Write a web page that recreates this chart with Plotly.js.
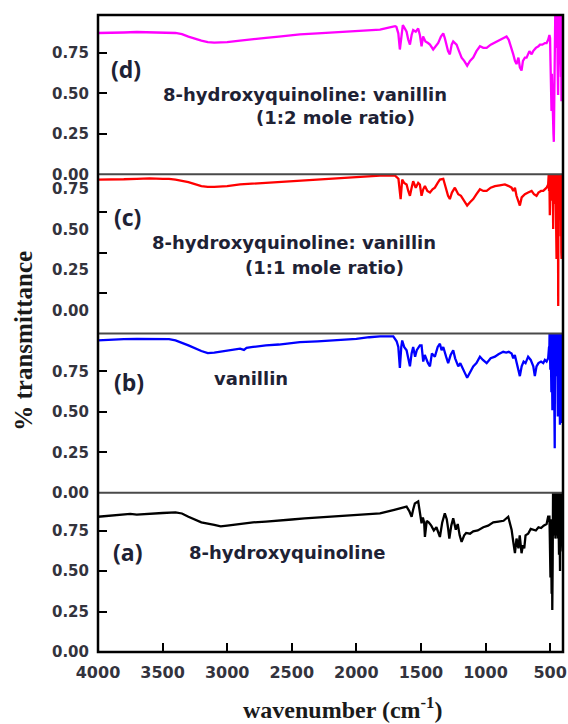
<!DOCTYPE html>
<html>
<head>
<meta charset="utf-8">
<script src="https://cdn.plot.ly/plotly-3.0.1.min.js"></script>
<style>html,body{margin:0;padding:0;background:#fff;}#chart{width:568px;height:724px;}</style>
</head>
<body>
<div id="chart"></div>
<script>
// ---------- data ----------
const xTickVals = [4000, 3500, 3000, 2500, 2000, 1500, 1000, 500];
const yTickVals = [0, 0.25, 0.5, 0.75];
const yTickText = ['0.00', '0.25', '0.50', '0.75'];

const panelLetters = ['(a)', '(b)', '(c)', '(d)'];
const nameA = '8-hydroxyquinoline';
const nameB = 'vanillin';
const nameMix = '8-hydroxyquinoline: vanillin';
const ratioC = '(1:1 mole ratio)';
const ratioD = '(1:2 mole ratio)';

// (a) 8-hydroxyquinoline
const wnA = [4000,3900,3800,3750,3700,3600,3500,3400,3350,3300,3200,3100,3050,3000,2900,2800,2700,2600,2500,2400,2200,2000,1900,1817,1714,1640,1611,1590,1572,1560,1547,1521,1505,1495,1485,1475,1469,1455,1440,1420,1400,1380,1353,1335,1315,1300,1289,1280,1265,1250,1230,1215,1200,1185,1165,1150,1120,1095,1060,1017,980,940,900,860,824,810,798,785,772,760,745,735,721,710,700,690,670,650,631,610,590,570,550,527,515,505,502,500,497,494,491,488,485,483,480,477,475,473,471,469,467,465,463,461,459,457,455,453,451,449,447,445,443,441,439,437,435,433,431,429,427,425,423,421,419,417,415,413,411,409,407,405,403,401,400];
const tA = [0.835,0.84,0.845,0.852,0.848,0.855,0.858,0.862,0.855,0.835,0.80,0.785,0.775,0.78,0.79,0.80,0.805,0.81,0.818,0.825,0.835,0.845,0.85,0.856,0.876,0.89,0.897,0.87,0.835,0.88,0.917,0.93,0.86,0.794,0.83,0.80,0.71,0.81,0.80,0.78,0.75,0.77,0.71,0.80,0.856,0.82,0.76,0.70,0.78,0.825,0.755,0.79,0.72,0.68,0.72,0.735,0.73,0.745,0.75,0.77,0.78,0.80,0.805,0.81,0.835,0.78,0.755,0.68,0.61,0.70,0.64,0.72,0.61,0.66,0.64,0.72,0.73,0.76,0.755,0.75,0.77,0.765,0.78,0.79,0.835,0.835,0.70,0.60,0.46,0.82,0.40,0.36,0.80,0.26,0.55,0.99,0.78,0.99,0.75,0.99,0.72,0.99,0.76,0.99,0.70,0.99,0.78,0.99,0.74,0.99,0.72,0.99,0.76,0.99,0.70,0.99,0.66,0.99,0.60,0.99,0.55,0.99,0.50,0.99,0.62,0.99,0.68,0.99,0.72,0.99,0.74,0.99,0.76,0.99,0.80];

// (b) vanillin
const wnB = [4000,3900,3800,3700,3600,3500,3450,3400,3300,3200,3150,3100,3050,3000,2950,2900,2870,2850,2800,2700,2600,2500,2437,2300,2200,2000,1900,1817,1714,1688,1675,1663,1652,1645,1630,1611,1598,1585,1572,1560,1545,1532,1508,1495,1482,1470,1445,1430,1415,1392,1370,1353,1340,1327,1305,1289,1270,1250,1235,1220,1211,1195,1175,1160,1142,1120,1095,1070,1043,1020,991,960,927,900,863,840,820,798,785,773,760,745,734,720,705,690,670,650,630,618,605,590,570,553,540,527,515,508,506,504,502,500,498,496,494,492,490,488,486,484,482,480,478,476,474,472,470,468,466,464,462,460,458,456,454,452,450,448,446,444,442,440,438,436,434,432,430,428,426,424,422,420,418,416,414,412,410,408,406,404,402,400];
const tB = [0.94,0.945,0.948,0.95,0.95,0.95,0.948,0.94,0.91,0.875,0.862,0.865,0.872,0.88,0.885,0.89,0.882,0.895,0.90,0.91,0.915,0.925,0.93,0.935,0.94,0.95,0.96,0.965,0.965,0.935,0.90,0.77,0.90,0.94,0.90,0.88,0.83,0.78,0.86,0.90,0.84,0.88,0.91,0.91,0.81,0.85,0.80,0.78,0.86,0.84,0.90,0.92,0.88,0.90,0.84,0.80,0.85,0.88,0.83,0.80,0.78,0.80,0.76,0.74,0.71,0.74,0.78,0.80,0.84,0.82,0.80,0.83,0.84,0.855,0.87,0.865,0.87,0.86,0.83,0.85,0.80,0.76,0.72,0.78,0.81,0.80,0.84,0.82,0.78,0.72,0.78,0.80,0.81,0.80,0.82,0.81,0.83,0.90,0.85,0.99,0.78,0.99,0.76,0.99,0.74,0.99,0.62,0.99,0.75,0.99,0.51,0.99,0.74,0.99,0.72,0.99,0.60,0.99,0.40,0.275,0.99,0.76,0.99,0.74,0.99,0.76,0.99,0.72,0.99,0.74,0.99,0.47,0.99,0.70,0.99,0.60,0.99,0.45,0.99,0.42,0.99,0.44,0.99,0.43,0.99,0.45,0.99,0.60,0.99,0.70,0.99,0.75];

// (c) 8-hydroxyquinoline : vanillin 1:1
const wnC = [4000,3900,3800,3700,3600,3500,3450,3400,3300,3200,3150,3100,3050,3000,2900,2800,2700,2600,2500,2400,2300,2200,2100,2000,1900,1817,1700,1674,1657,1645,1630,1611,1598,1585,1572,1560,1540,1521,1508,1495,1482,1469,1450,1430,1410,1392,1370,1353,1327,1315,1302,1290,1276,1260,1237,1224,1211,1190,1172,1155,1142,1120,1095,1070,1043,1017,991,960,927,890,850,820,798,785,772,760,745,734,720,695,670,643,625,605,590,570,553,540,527,515,512,510,508,506,504,502,500,498,496,494,492,490,488,486,484,482,480,478,476,474,472,470,468,466,464,462,460,458,456,454,452,450,448,446,444,442,440,438,437,435,433,431,429,427,425,423,421,419,417,415,413,411,409,407,405,403,401,400];
const tC = [0.95,0.95,0.952,0.955,0.958,0.955,0.955,0.95,0.935,0.91,0.905,0.905,0.907,0.91,0.92,0.925,0.93,0.935,0.94,0.945,0.95,0.955,0.96,0.965,0.97,0.975,0.975,0.955,0.83,0.95,0.93,0.92,0.88,0.85,0.90,0.94,0.90,0.93,0.92,0.85,0.89,0.91,0.88,0.87,0.89,0.90,0.93,0.95,0.955,0.92,0.88,0.85,0.83,0.87,0.90,0.88,0.86,0.85,0.83,0.81,0.79,0.81,0.83,0.86,0.89,0.88,0.88,0.90,0.91,0.915,0.92,0.91,0.90,0.88,0.90,0.85,0.81,0.79,0.84,0.86,0.87,0.88,0.86,0.85,0.87,0.88,0.88,0.89,0.90,0.92,0.94,0.99,0.88,0.99,0.86,0.73,0.99,0.86,0.99,0.84,0.99,0.86,0.99,0.82,0.99,0.85,0.99,0.80,0.645,0.99,0.84,0.99,0.82,0.99,0.84,0.99,0.80,0.99,0.78,0.99,0.60,0.46,0.99,0.78,0.99,0.74,0.99,0.40,0.17,0.99,0.74,0.99,0.72,0.99,0.74,0.99,0.70,0.99,0.60,0.99,0.50,0.46,0.99,0.62,0.99,0.70,0.99,0.80];

// (d) 8-hydroxyquinoline : vanillin 1:2
const wnD = [4000,3900,3800,3700,3600,3500,3400,3350,3300,3200,3150,3100,3050,3000,2900,2800,2700,2600,2500,2437,2300,2200,2100,2000,1900,1817,1750,1700,1690,1675,1663,1650,1640,1625,1611,1598,1585,1572,1560,1540,1521,1508,1495,1483,1465,1445,1430,1405,1385,1366,1345,1327,1315,1302,1290,1276,1262,1250,1237,1224,1205,1185,1165,1142,1120,1095,1070,1043,1017,991,960,914,880,850,837,820,798,785,772,760,745,734,721,710,695,682,660,643,631,610,590,579,560,540,527,515,505,500,497,494,491,489,486,483,480,477,474,471,468,466,464,462,460,458,456,454,452,450,448,446,444,442,440,438,436,434,432,430,428,426,424,422,420,418,416,414,412,410,408,406,404,402,400];
const tD = [0.872,0.872,0.875,0.878,0.877,0.877,0.872,0.865,0.85,0.825,0.815,0.812,0.813,0.815,0.825,0.835,0.842,0.85,0.86,0.864,0.87,0.875,0.88,0.885,0.89,0.893,0.905,0.914,0.91,0.87,0.77,0.88,0.92,0.90,0.88,0.83,0.80,0.86,0.89,0.88,0.90,0.86,0.79,0.85,0.82,0.81,0.80,0.77,0.79,0.81,0.85,0.87,0.84,0.79,0.76,0.74,0.80,0.82,0.81,0.80,0.76,0.72,0.70,0.67,0.70,0.72,0.76,0.79,0.78,0.78,0.80,0.82,0.83,0.845,0.85,0.83,0.78,0.74,0.70,0.68,0.72,0.66,0.64,0.70,0.72,0.72,0.76,0.74,0.76,0.78,0.79,0.80,0.80,0.81,0.81,0.83,0.86,0.84,0.70,0.60,0.50,0.39,0.62,0.45,0.30,0.40,0.25,0.20,0.50,0.75,0.99,0.80,0.99,0.82,0.99,0.80,0.99,0.78,0.99,0.80,0.99,0.70,0.60,0.49,0.70,0.82,0.90,0.99,0.80,0.99,0.78,0.99,0.75,0.99,0.60,0.99,0.45,0.99,0.70,0.99,0.75,0.99,0.80];

// ---------- traces ----------
const series = [
  {x: wnA, y: tA, color: '#000000', axis: 'y'},
  {x: wnB, y: tB, color: '#0000ff', axis: 'y2'},
  {x: wnC, y: tC, color: '#ff0000', axis: 'y3'},
  {x: wnD, y: tD, color: '#ff00ff', axis: 'y4'}
];
const traces = series.map(s => ({
  type: 'scatter', mode: 'lines', x: s.x, y: s.y, xaxis: 'x', yaxis: s.axis,
  line: {color: s.color, width: 2.3}, hoverinfo: 'skip'
}));

const tickFont = {family: 'DejaVu Sans, sans-serif', size: 15, weight: 'bold', color: '#33333d'};
function yAx(domain, shift) {
  return {
    domain: domain, range: [0, 0.983], anchor: 'x',
    tickvals: yTickVals, ticktext: yTickText,
    ticks: 'inside', ticklen: 9, tickwidth: 2, tickcolor: '#000',
    showgrid: false, zeroline: false, showline: false,
    tickfont: tickFont, ticklabelstandoff: 8, ticklabelshift: shift || 0
  };
}

const annFont = {family: 'DejaVu Sans, sans-serif', size: 18, weight: 'bold', color: '#1e2235'};
const letterFont = {family: 'Open Sans, sans-serif', size: 23, weight: 'bold', color: '#1e2235'};

const annotations = [
  {text: panelLetters[3], x: 3783, y: 0.648, xref: 'x', yref: 'y4', font: letterFont},
  {text: nameMix, x: 2398, y: 0.494, xref: 'x', yref: 'y4', font: annFont},
  {text: ratioD, x: 2158, y: 0.352, xref: 'x', yref: 'y4', font: annFont},
  {text: panelLetters[2], x: 3768, y: 0.722, xref: 'x', yref: 'y3', font: letterFont},
  {text: nameMix, x: 2483, y: 0.562, xref: 'x', yref: 'y3', font: annFont},
  {text: ratioC, x: 2243, y: 0.407, xref: 'x', yref: 'y3', font: annFont},
  {text: panelLetters[1], x: 3760, y: 0.686, xref: 'x', yref: 'y2', font: letterFont},
  {text: nameB, x: 2812, y: 0.704, xref: 'x', yref: 'y2', font: annFont},
  {text: panelLetters[0], x: 3768, y: 0.619, xref: 'x', yref: 'y', font: letterFont},
  {text: nameA, x: 2533, y: 0.617, xref: 'x', yref: 'y', font: annFont},
  {text: '% transmittance', textangle: -90, x: -0.16, y: 0.488, xref: 'paper', yref: 'paper',
   font: {family: 'Liberation Serif, serif', size: 25, weight: 'bold', color: '#1a1a1a'}},
  {text: 'wavenumber (cm<sup>-1</sup>)', x: 0.526, y: -0.088, xref: 'paper', yref: 'paper',
   font: {family: 'Liberation Serif, serif', size: 24, weight: 'bold', color: '#1a1a1a'}}
].map(a => Object.assign({showarrow: false, xanchor: 'center', yanchor: 'middle'}, a));

const shapes = [
  {type: 'line', xref: 'paper', yref: 'paper', x0: 0, x1: 1, y0: 0.25, y1: 0.25, line: {color: '#4a4a4a', width: 2}, layer: 'above'},
  {type: 'line', xref: 'paper', yref: 'paper', x0: 0, x1: 1, y0: 0.5, y1: 0.5, line: {color: '#4a4a4a', width: 2}, layer: 'above'},
  {type: 'line', xref: 'paper', yref: 'paper', x0: 0, x1: 1, y0: 0.75, y1: 0.75, line: {color: '#4a4a4a', width: 2}, layer: 'above'},
  {type: 'rect', xref: 'paper', yref: 'paper', x0: 0, x1: 1, y0: 0, y1: 1, line: {color: '#000', width: 2.5}, layer: 'above'}
];

const layout = {
  width: 568, height: 724,
  margin: {l: 98, r: 5, t: 15, b: 72},
  paper_bgcolor: '#fff', plot_bgcolor: '#fff',
  showlegend: false,
  xaxis: {
    range: [4000, 400], anchor: 'y', tickvals: xTickVals,
    ticks: 'inside', ticklen: 9, tickwidth: 2, tickcolor: '#000',
    showgrid: false, zeroline: false, showline: false,
    tickfont: {family: 'DejaVu Sans, sans-serif', size: 16, weight: 'bold', color: '#33333d'},
    ticklabelstandoff: 9
  },
  yaxis: yAx([0, 0.25]),
  yaxis2: yAx([0.25, 0.5]),
  yaxis3: yAx([0.5, 0.75], -23),
  yaxis4: yAx([0.75, 1]),
  annotations: annotations,
  shapes: shapes
};

Plotly.newPlot('chart', traces, layout, {displayModeBar: false, staticPlot: true});
</script>
</body>
</html>
